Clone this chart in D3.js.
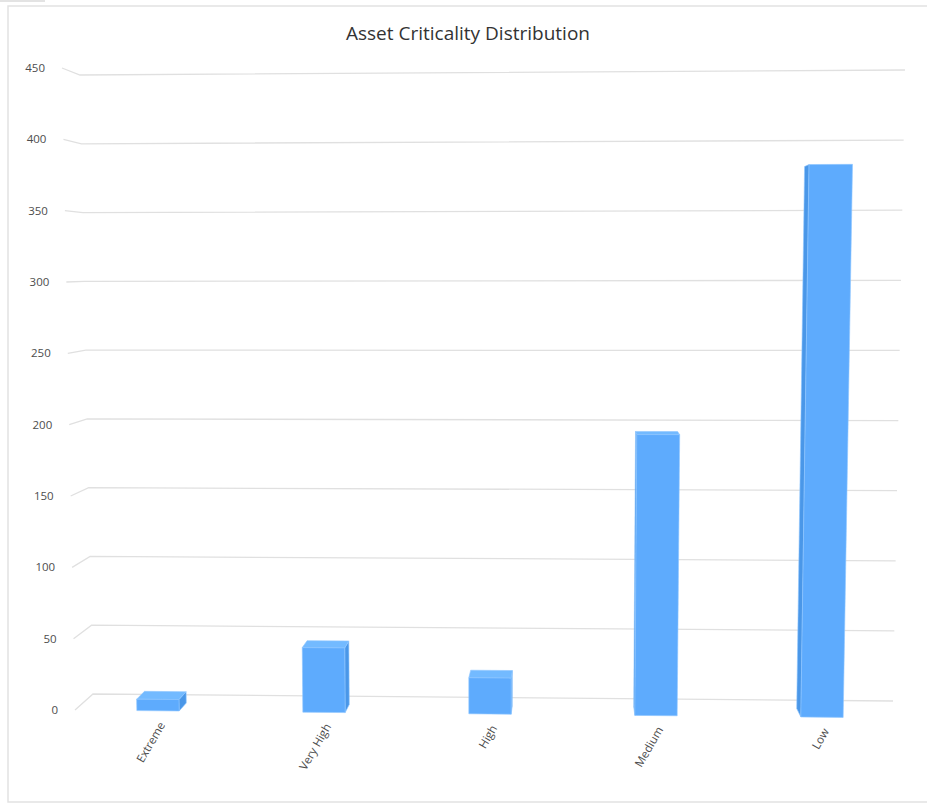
<!DOCTYPE html>
<html>
<head>
<meta charset="utf-8">
<script src="https://cdn.jsdelivr.net/npm/d3@7"></script>
<style>
  body { margin: 0; background: #fff; }
  svg { display: block; font-family: "Open Sans", "Noto Sans", sans-serif; }
</style>
</head>
<body>
<div id="chart"></div>
<script>
const categories = ["Extreme", "Very High", "High", "Medium", "Low"];
const counts = [8, 45, 25, 194, 380];
const yTicks = [0, 50, 100, 150, 200, 250, 300, 350, 400, 450];

const width = 927;
const height = 804;

const svg = d3.select("#chart")
  .append("svg")
  .attr("width", width)
  .attr("height", height);

// chart frame
svg.append("rect")
  .attr("x", 0).attr("y", 0)
  .attr("width", 45).attr("height", 2)
  .style("fill", "#e3e3e3");
svg.append("rect")
  .attr("x", 8).attr("y", 6)
  .attr("width", 940).attr("height", 796)
  .style("fill", "none")
  .style("stroke", "#e2e2e2")
  .style("stroke-width", 1.5);

svg.append("text")
  .attr("x", 468)
  .attr("y", 40)
  .attr("text-anchor", "middle")
  .style("font-size", "19px")
  .style("fill", "#333")
  .text("Asset Criticality Distribution");

// scales: u across the plot (0..1), v up the plot (0..1)
const x = d3.scaleBand()
  .domain(categories)
  .range([0, 1])
  .paddingInner(0.745)
  .paddingOuter(0.3725);

const y = d3.scaleLinear()
  .domain([0, 450])
  .range([0, 1]);

// corners of the front plane and the back wall, as they appear on screen
const front = { b0: [75, 710], b1: [905, 718], t0: [62, 68], t1: [918, 62] };
const back = { b0: [93, 694], b1: [893, 701], t0: [80, 75], t1: [905, 70] };

const bilerp = (p, u, v) => {
  const bx = p.b0[0] + (p.b1[0] - p.b0[0]) * u;
  const by = p.b0[1] + (p.b1[1] - p.b0[1]) * u;
  const tx = p.t0[0] + (p.t1[0] - p.t0[0]) * u;
  const ty = p.t0[1] + (p.t1[1] - p.t0[1]) * u;
  return [bx + (tx - bx) * v, by + (ty - by) * v];
};

// project a point (u, v, w) where w is depth: 0 front, 1 back
const proj = (u, v, w) => {
  const f = bilerp(front, u, v);
  const b = bilerp(back, u, v);
  return [f[0] + (b[0] - f[0]) * w, f[1] + (b[1] - f[1]) * w];
};

const line = d3.line();

// grid on back wall and the left side wall
const grid = svg.append("g");
yTicks.forEach(t => {
  const v = y(t);
  grid.append("path")
    .attr("d", line([proj(0, v, 0), proj(0, v, 1), proj(1, v, 1)]))
    .style("fill", "none")
    .style("stroke", "#e0e0e0")
    .style("stroke-width", 1.3);
});

// y labels at the front left edge
svg.append("g").selectAll("text")
  .data(yTicks)
  .join("text")
  .attr("x", d => proj(0, y(d), 0)[0] - 17)
  .attr("y", d => proj(0, y(d), 0)[1])
  .attr("dy", "0.35em")
  .attr("text-anchor", "end")
  .style("font-size", "11.5px")
  .style("fill", "#4d4d4d")
  .text(d => d);

// 3d columns
const depth = 0.5;
const colors = { front: "#5eabfd", top: "#73baff", side: "#4a97e8" };

const area = pts => {
  let s = 0;
  for (let i = 0; i < pts.length; i++) {
    const a = pts[i], b = pts[(i + 1) % pts.length];
    s += a[0] * b[1] - b[0] * a[1];
  }
  return s;
};

const bars = svg.append("g");
categories.forEach((c, i) => {
  const u0 = x(c), u1 = x(c) + x.bandwidth();
  const v = y(counts[i]);
  const faces = [
    { fill: colors.side, pts: [[u1, 0, 0], [u1, 0, depth], [u1, v, depth], [u1, v, 0]] },
    { fill: colors.side, pts: [[u0, 0, depth], [u0, 0, 0], [u0, v, 0], [u0, v, depth]] },
    { fill: colors.top, pts: [[u0, v, 0], [u1, v, 0], [u1, v, depth], [u0, v, depth]] },
    { fill: colors.front, pts: [[u0, 0, 0], [u1, 0, 0], [u1, v, 0], [u0, v, 0]] }
  ];
  faces.forEach(f => {
    const p = f.pts.map(d => proj(d[0], d[1], d[2]));
    if (area(p) >= 0) return;
    bars.append("path")
      .attr("d", line(p) + "Z")
      .style("fill", f.fill)
      .style("stroke", "#8fc6ff")
      .style("stroke-width", 0.6)
      .style("stroke-linejoin", "round");
  });
});

// category labels
svg.append("g").selectAll("text")
  .data(categories)
  .join("text")
  .attr("transform", d => {
    const p = proj(x(d) + x.bandwidth() / 2, 0, 0);
    return `translate(${p[0] + 4},${p[1] + 12}) rotate(-60)`;
  })
  .attr("dy", "0.35em")
  .attr("text-anchor", "end")
  .style("font-size", "11.5px")
  .style("fill", "#4d4d4d")
  .text(d => d);
</script>
</body>
</html>
